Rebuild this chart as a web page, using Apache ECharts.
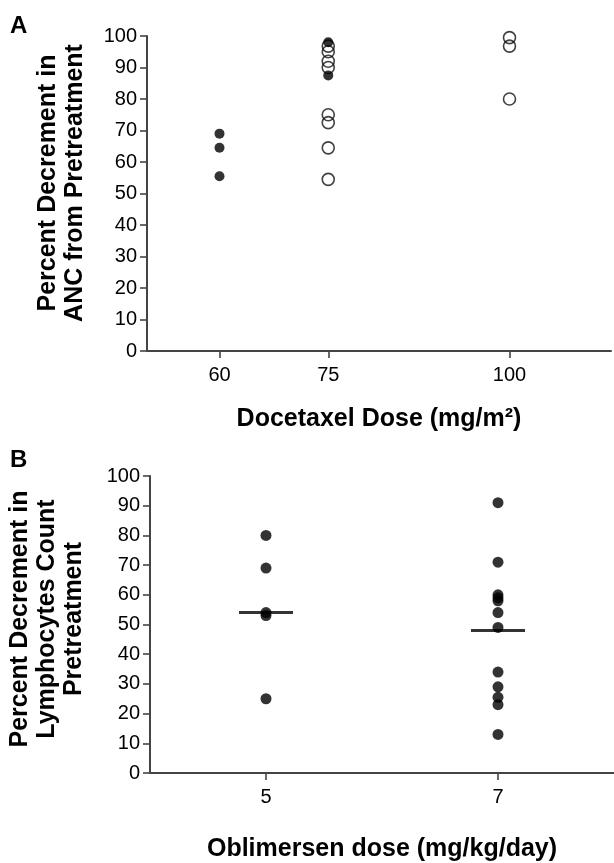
<!DOCTYPE html>
<html>
<head>
<meta charset="utf-8">
<script src="https://cdn.jsdelivr.net/npm/echarts@6/dist/echarts.min.js"></script>
<style>
html,body{margin:0;padding:0;background:#fff;}
#chart{width:614px;height:863px;}
</style>
</head>
<body>
<div id="chart"></div>
<script>
// ---------- Panel A data (Docetaxel dose vs % decrement in ANC) ----------
const aDoseTicks = [60, 75, 100];
const aFilledDose = [60, 60, 60, 75, 75];
const aFilledVal  = [69, 64.5, 55.5, 98, 87.5];
const aOpenDose   = [75, 75, 75, 75, 75, 75, 75, 75, 100, 100, 100];
const aOpenVal    = [96.8, 95, 92, 90, 75, 72.5, 64.5, 54.5, 99.5, 96.8, 80];

// ---------- Panel B data (Oblimersen dose vs % decrement in lymphocytes) ----------
const bDoseTicks = [5, 7];
const bDose5Val = [80, 69, 54, 53, 25];
const bDose7Val = [91, 71, 60, 59, 58, 54, 49, 34, 29, 25.5, 23, 13];
const bMedian   = [54, 48];

const FONT = '"Liberation Sans", Arial, Helvetica, sans-serif';
const TXT = '#000';
const AX = '#444';

const zip = (xs, ys) => ys.map((v, i) => [xs[i], v]);
const rep = (x, ys) => ys.map(v => [x, v]);

function yAxisCfg(gridIndex) {
  return {
    gridIndex, type: 'value', min: 0, max: 100, interval: 10,
    axisLine: { show: true, lineStyle: { color: AX, width: 2 } },
    axisTick: { show: true, length: 7, lineStyle: { color: AX, width: 1.6 } },
    axisLabel: { fontFamily: FONT, fontSize: 20, color: TXT, margin: 10 },
    splitLine: { show: false }
  };
}

const chart = echarts.init(document.getElementById('chart'), null, { renderer: 'canvas' });
chart.setOption({
  backgroundColor: '#fff',
  animation: false,
  grid: [
    { left: 147, top: 36, width: 464, height: 315 },
    { left: 150, top: 476, width: 464, height: 309 }
  ],
  xAxis: [
    {
      gridIndex: 0, type: 'value', min: 50, max: 114,
      axisLine: { show: true, lineStyle: { color: AX, width: 2 } },
      axisTick: { show: true, length: 7, customValues: aDoseTicks, lineStyle: { color: AX, width: 1.6 } },
      axisLabel: { customValues: aDoseTicks, fontFamily: FONT, fontSize: 20, color: TXT, margin: 14 },
      splitLine: { show: false },
      name: 'Docetaxel Dose (mg/m²)', nameLocation: 'middle', nameGap: 56,
      nameTextStyle: { fontFamily: FONT, fontSize: 25, fontWeight: 'bold', color: TXT }
    },
    {
      gridIndex: 1, type: 'value', min: 4, max: 8,
      axisLine: { show: true, lineStyle: { color: AX, width: 2 } },
      axisTick: { show: true, length: 7, customValues: bDoseTicks, lineStyle: { color: AX, width: 1.6 } },
      axisLabel: { customValues: bDoseTicks, fontFamily: FONT, fontSize: 20, color: TXT, margin: 14 },
      splitLine: { show: false },
      name: 'Oblimersen dose (mg/kg/day)', nameLocation: 'middle', nameGap: 64,
      nameTextStyle: { fontFamily: FONT, fontSize: 25, fontWeight: 'bold', color: TXT }
    }
  ],
  yAxis: [yAxisCfg(0), yAxisCfg(1)],
  graphic: [
    { type: 'text', left: 10, top: 14, style: { text: 'A', font: 'bold 24px ' + FONT, fill: TXT } },
    { type: 'text', left: 10, top: 448, style: { text: 'B', font: 'bold 24px ' + FONT, fill: TXT } },
    { type: 'text', x: 62, y: 183, rotation: Math.PI / 2,
      style: { text: 'Percent Decrement in\nANC from Pretreatment', font: 'bold 25px ' + FONT, fill: TXT,
               align: 'center', verticalAlign: 'middle', lineHeight: 27 } },
    { type: 'text', x: 47, y: 619, rotation: Math.PI / 2,
      style: { text: 'Percent Decrement in\nLymphocytes Count\nPretreatment', font: 'bold 25px ' + FONT, fill: TXT,
               align: 'center', verticalAlign: 'middle', lineHeight: 27 } }
  ],
  series: [
    { type: 'scatter', xAxisIndex: 0, yAxisIndex: 0, data: zip(aOpenDose, aOpenVal),
      symbol: 'circle', symbolSize: 12,
      itemStyle: { color: 'rgba(255,255,255,0)', borderColor: '#111', borderWidth: 1.6 }, z: 2 },
    { type: 'scatter', xAxisIndex: 0, yAxisIndex: 0, data: zip(aFilledDose, aFilledVal),
      symbol: 'circle', symbolSize: 10, itemStyle: { color: '#000' }, z: 3 },
    { type: 'scatter', xAxisIndex: 1, yAxisIndex: 1,
      data: rep(bDoseTicks[0], bDose5Val).concat(rep(bDoseTicks[1], bDose7Val)),
      symbol: 'circle', symbolSize: 11, itemStyle: { color: '#000' }, z: 3 },
    { type: 'scatter', xAxisIndex: 1, yAxisIndex: 1, data: zip(bDoseTicks, bMedian),
      symbol: 'rect', symbolSize: [54, 3], itemStyle: { color: '#000' }, z: 4 }
  ]
});
</script>
</body>
</html>
